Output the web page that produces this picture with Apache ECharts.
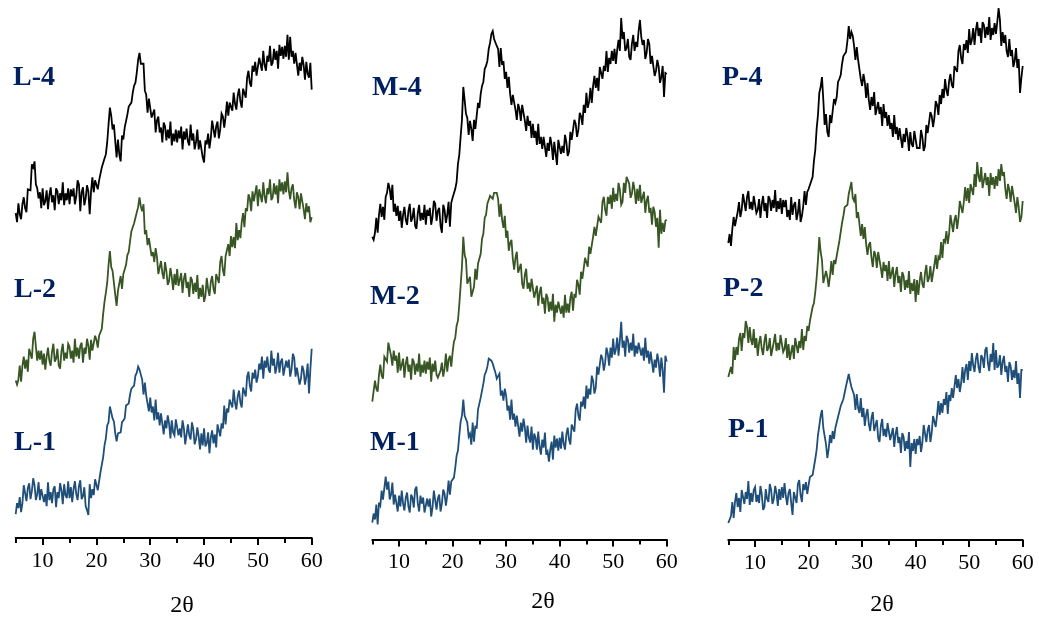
<!DOCTYPE html>
<html><head><meta charset="utf-8">
<script src="https://cdn.jsdelivr.net/npm/echarts@6/dist/echarts.min.js"></script>
<style>html,body{margin:0;padding:0;background:#fff}#c{width:1039px;height:630px}</style>
</head><body><div id="c"></div>
<script>
// 2θ sampling positions (degrees), 0.25° steps
const angles = [
5,5.25,5.5,5.75,6,6.25,6.5,6.75,7,7.25,7.5,7.75,8,8.25,8.5,8.75,9,9.25,9.5,9.75,
10,10.25,10.5,10.75,11,11.25,11.5,11.75,12,12.25,12.5,12.75,13,13.25,13.5,13.75,14,14.25,14.5,14.75,
15,15.25,15.5,15.75,16,16.25,16.5,16.75,17,17.25,17.5,17.75,18,18.25,18.5,18.75,19,19.25,19.5,19.75,
20,20.25,20.5,20.75,21,21.25,21.5,21.75,22,22.25,22.5,22.75,23,23.25,23.5,23.75,24,24.25,24.5,24.75,
25,25.25,25.5,25.75,26,26.25,26.5,26.75,27,27.25,27.5,27.75,28,28.25,28.5,28.75,29,29.25,29.5,29.75,
30,30.25,30.5,30.75,31,31.25,31.5,31.75,32,32.25,32.5,32.75,33,33.25,33.5,33.75,34,34.25,34.5,34.75,
35,35.25,35.5,35.75,36,36.25,36.5,36.75,37,37.25,37.5,37.75,38,38.25,38.5,38.75,39,39.25,39.5,39.75,
40,40.25,40.5,40.75,41,41.25,41.5,41.75,42,42.25,42.5,42.75,43,43.25,43.5,43.75,44,44.25,44.5,44.75,
45,45.25,45.5,45.75,46,46.25,46.5,46.75,47,47.25,47.5,47.75,48,48.25,48.5,48.75,49,49.25,49.5,49.75,
50,50.25,50.5,50.75,51,51.25,51.5,51.75,52,52.25,52.5,52.75,53,53.25,53.5,53.75,54,54.25,54.5,54.75,
55,55.25,55.5,55.75,56,56.25,56.5,56.75,57,57.25,57.5,57.75,58,58.25,58.5,58.75,59,59.25,59.5,59.75,
60];
const xTicks = [10,20,30,40,50,60];
const xMinorTicks = [5,15,25,35,45,55];

// Intensities (a.u., stacked as displayed)
const L4 = [
326,317,336,325,320,335,342,331,327,350,352,349,375,372,378,355,351,341,347,331,
351,334,338,349,330,344,352,337,344,329,351,348,335,346,339,357,334,346,339,351,
335,350,343,351,335,343,359,355,328,347,352,334,341,354,348,325,348,362,347,359,
360,350,359,360,372,372,381,385,397,415,432,424,410,415,398,382,400,385,378,404,
400,412,414,425,433,434,437,447,454,457,467,480,487,476,476,476,449,445,427,441,
441,422,422,430,407,419,423,407,412,397,417,413,399,410,401,418,394,406,398,410,
397,409,401,413,390,408,400,411,398,394,415,399,406,390,397,410,390,399,401,382,
377,399,395,406,391,401,419,418,402,413,418,401,410,426,423,412,423,438,424,437,
439,429,447,436,430,444,451,438,432,451,450,442,462,469,457,453,474,468,478,464,
464,482,480,469,489,475,469,484,478,494,474,477,491,480,489,471,495,484,493,481,
494,483,505,480,503,483,489,476,487,488,464,477,469,483,475,460,478,466,462,477,
450];
const L2 = [
158,154,159,173,157,173,182,170,179,167,190,190,180,200,207,192,178,188,179,188,
174,185,169,182,191,178,173,187,195,177,180,190,173,170,187,195,178,186,180,195,
192,180,188,176,200,182,191,180,193,196,176,191,185,200,193,179,199,188,186,203,
199,191,203,205,210,225,237,246,256,274,288,272,268,269,244,233,248,248,263,250,
265,266,274,284,287,298,308,309,316,316,327,332,342,333,328,335,305,309,294,301,
300,283,287,277,291,282,265,264,278,266,260,277,268,254,258,271,262,249,265,254,
270,253,255,266,246,260,266,251,257,242,262,259,245,256,247,264,240,251,242,254,
237,243,261,250,243,257,263,250,245,265,264,256,277,283,269,263,283,281,295,283,
303,292,302,291,316,299,309,301,317,326,312,331,328,345,341,328,348,338,337,354,
333,350,348,337,357,343,336,351,345,360,339,342,356,345,354,336,360,348,357,345,
358,347,367,349,340,351,355,339,331,347,342,330,346,347,330,320,336,327,333,317,
322];
const L1 = [
24,35,30,41,26,35,53,53,37,50,55,39,47,60,53,38,44,56,38,49,
48,36,44,32,56,38,46,35,49,52,31,46,40,55,48,34,54,43,40,57,
40,51,36,49,57,44,38,52,58,39,42,51,32,28,23,54,40,49,43,59,
61,48,57,66,67,81,93,100,113,116,132,126,120,117,105,97,105,107,106,116,
117,120,133,133,135,144,150,150,153,163,166,172,169,168,159,144,156,143,145,127,
141,126,132,118,139,119,126,113,125,126,104,118,110,123,115,100,118,106,103,119,
118,103,110,101,118,110,94,96,114,103,99,116,109,94,99,111,102,89,105,93,
110,92,95,106,85,101,108,95,104,91,114,113,102,115,110,133,114,130,126,139,
141,131,149,136,129,142,148,136,131,151,150,142,162,167,153,147,166,160,169,156,
162,175,169,182,160,178,171,182,169,166,188,173,180,165,172,186,166,177,180,163,
164,178,171,179,162,169,185,181,162,171,173,154,160,173,168,154,162,175,145,169,
190];
const M4 = [
303,300,307,322,307,325,336,323,333,320,343,347,357,351,340,355,328,336,324,334,
319,329,312,325,333,320,315,329,336,318,322,332,314,311,327,335,319,327,320,335,
315,330,324,332,315,323,339,336,319,329,332,314,307,335,330,317,325,338,313,337,
342,341,351,358,376,385,403,420,453,440,426,422,405,419,411,399,420,411,411,437,
432,446,454,458,471,474,479,491,497,506,509,501,502,494,491,473,492,475,479,461,
468,452,463,446,435,445,447,430,420,436,431,419,435,436,419,409,424,414,419,402,
416,402,409,395,416,396,403,391,403,405,383,397,389,403,395,380,398,386,375,400,
400,386,394,387,405,398,384,388,408,400,400,420,416,403,410,427,424,415,435,427,
447,432,438,452,437,454,464,452,462,449,473,472,461,474,469,489,468,482,476,489,
479,491,476,490,500,489,522,501,508,489,492,501,483,480,496,505,489,498,493,509,
520,503,495,500,481,487,501,496,476,484,485,464,469,480,473,457,463,474,443,467,
466];
const M2 = [
138,137,159,151,148,165,175,164,161,183,184,178,197,196,184,174,189,179,184,167,
187,169,171,181,162,176,183,168,175,160,181,178,165,176,168,186,163,175,167,179,
166,178,170,182,158,176,168,179,165,162,160,169,177,163,171,186,168,180,184,173,
187,198,202,214,219,235,254,273,303,285,280,256,254,263,243,242,253,271,260,276,
277,286,301,306,322,325,336,335,344,346,341,347,349,347,341,323,336,320,312,324,
302,309,289,297,300,281,270,282,288,267,268,276,256,251,265,271,251,257,248,261,
261,242,244,254,234,247,253,236,242,226,246,242,228,238,229,246,218,235,227,238,
238,226,234,222,245,227,236,227,242,248,229,246,242,260,255,245,268,261,262,282,
281,273,293,286,285,303,313,304,302,323,324,317,338,343,330,324,343,336,345,331,
352,338,346,339,357,350,335,338,357,347,363,363,356,342,346,358,350,336,351,339,
355,337,339,348,327,339,344,327,332,315,333,328,313,322,292,330,306,317,308,319,
320];
const M1 = [
17,26,20,35,15,37,34,49,40,40,63,50,58,40,45,57,35,45,46,28,
44,33,49,36,29,42,47,33,27,45,42,32,50,53,36,28,44,36,42,27,
26,41,33,41,23,32,49,47,30,41,45,28,36,50,46,34,44,59,45,58,
58,62,72,84,89,104,118,124,140,124,122,117,103,106,95,117,98,114,111,130,
130,142,144,156,165,168,173,181,183,179,176,176,167,161,161,166,144,149,139,151,
144,129,134,120,140,120,126,113,124,126,103,117,108,121,112,97,114,102,97,113,
90,106,102,90,108,93,85,100,92,107,85,88,78,90,98,80,104,92,101,89,
102,91,108,96,90,105,112,100,95,115,115,108,130,136,124,119,138,133,143,131,
154,141,151,145,164,159,146,152,173,165,165,185,181,169,177,192,186,174,192,182,
201,185,190,202,184,199,218,192,199,183,204,200,187,197,189,206,183,194,186,197,
197,184,192,179,202,182,189,176,188,189,167,180,172,186,178,163,182,170,147,184,
178];
const P4 = [
297,306,294,311,323,314,312,328,338,323,330,346,348,329,343,349,331,338,330,344,
345,327,330,341,322,336,344,329,337,322,344,341,329,340,332,350,328,339,331,342,
326,340,333,340,323,330,320,343,325,335,338,320,327,341,318,324,334,349,335,348,
351,349,359,363,379,390,411,425,447,453,463,440,415,426,408,403,425,417,418,441,
437,443,458,461,465,476,484,485,488,499,514,501,508,504,494,480,493,480,482,461,
454,466,458,442,457,440,430,443,434,448,425,427,438,426,433,414,436,422,428,414,
425,411,417,403,425,406,413,400,412,414,392,406,398,412,404,389,408,396,393,409,
408,392,390,392,410,403,389,394,415,407,407,428,424,413,422,439,435,425,445,436,
451,442,461,450,444,459,466,455,452,474,475,468,489,495,482,476,496,490,500,487,
511,495,500,512,495,510,518,504,512,497,518,515,502,513,505,523,500,512,505,517,
506,518,532,520,494,508,497,505,489,483,501,484,490,473,479,492,472,481,447,462,
474];
const P2 = [
163,161,173,166,193,180,193,185,201,207,189,207,202,219,213,197,213,200,195,211,
192,202,184,197,204,191,185,199,206,189,192,202,184,182,198,206,189,197,190,205,
205,188,191,202,182,196,180,188,195,181,202,200,187,199,192,211,190,204,199,214,
209,219,221,233,237,248,262,280,303,288,280,257,255,269,263,253,264,279,265,280,
276,284,286,299,301,317,324,333,333,335,346,345,358,342,339,346,322,328,326,304,
316,301,313,296,285,295,298,282,273,289,285,272,288,289,272,262,278,269,275,259,
279,261,263,273,253,266,273,257,264,248,268,264,250,260,252,269,246,257,249,261,
238,260,245,259,268,256,252,267,275,258,262,274,258,257,275,285,271,283,280,298,
282,301,298,309,296,306,325,324,308,320,325,311,322,339,338,327,338,353,339,352,
337,356,355,345,366,353,378,364,358,373,352,354,367,355,363,344,367,355,363,351,
364,354,371,359,376,364,368,351,341,356,350,338,354,355,337,327,343,333,318,323,
339];
const P1 = [
17,16,24,38,22,38,47,33,42,28,50,48,36,48,41,59,35,47,38,50,
53,38,45,37,54,46,30,33,51,41,38,56,50,36,41,54,47,34,51,40,
53,42,57,44,35,47,51,37,25,48,46,37,56,60,45,38,56,50,58,46,
55,63,65,65,73,81,90,105,114,124,130,112,110,96,82,91,105,97,109,101,
112,114,123,123,134,133,141,143,154,160,166,159,153,153,145,130,146,132,127,142,
123,132,114,125,131,116,109,122,128,109,111,120,102,98,114,121,104,111,103,117,
118,100,102,112,93,106,113,97,103,87,107,103,89,99,91,108,73,97,89,101,
86,101,95,104,88,97,115,114,98,110,115,98,107,124,123,113,125,139,125,137,
127,141,135,148,126,145,139,152,142,141,165,152,161,148,157,173,157,170,176,160,
179,169,187,175,168,181,187,173,167,185,182,172,190,193,177,169,186,178,197,170,
190,172,175,185,165,178,184,168,174,158,178,174,160,170,162,179,156,167,142,170,
170];

const sampleNames = [['L-4','L-2','L-1'],['M-4','M-2','M-1'],['P-4','P-2','P-1']];
const sampleData = [[L4,L2,L1],[M4,M2,M1],[P4,P2,P1]];
const lineColors = ['#000000','#375623','#1F4E79'];
const xTitle = '2θ';

const layout = [
  {left:15.7, width:296, top:-2, names:[[13,80],[14,292],[14,445]], title:[182,606]},
  {left:372.3, width:294.4, top:-0.5, names:[[372,90],[370,299],[370,445]], title:[543,602]},
  {left:728.3, width:294.4, top:0, names:[[722,80],[723,291],[728,432]], title:[882,605]}
];
const serif = '"Liberation Serif","Times New Roman",serif';

const grid=[], xAxis=[], yAxis=[], series=[], graphic=[];
layout.forEach((p,i)=>{
  grid.push({left:p.left, width:p.width, top:p.top, height:540});
  xAxis.push({gridIndex:i, type:'value', min:5, max:60, position:'bottom',
    axisLine:{show:true, onZero:false, lineStyle:{color:'#000', width:2}},
    axisTick:{show:true, customValues:xTicks, length:7, lineStyle:{color:'#000', width:2}},
    axisLabel:{show:true, customValues:xTicks, color:'#000', fontFamily:serif, fontSize:22, margin:12},
    splitLine:{show:false}});
  xAxis.push({gridIndex:i, type:'value', min:5, max:60, position:'bottom',
    axisLine:{show:false, onZero:false},
    axisTick:{show:true, customValues:xMinorTicks, length:5, lineStyle:{color:'#000', width:2}},
    axisLabel:{show:false}, splitLine:{show:false}});
  yAxis.push({gridIndex:i, type:'value', min:0, max:540, show:false});
  sampleData[i].forEach((arr,j)=>{
    series.push({type:'line', xAxisIndex:2*i, yAxisIndex:i, showSymbol:false, symbol:'none',
      silent:true, color:lineColors[j], lineStyle:{color:lineColors[j], width:1.8, join:'miter', miterLimit:4},
      data: angles.map((a,k)=>[a, arr[k]])});
    graphic.push({type:'text', left:p.names[j][0], top:p.names[j][1]-16,
      style:{text:sampleNames[i][j], font:'bold 28px '+serif, fill:'#002060'}});
  });
  graphic.push({type:'text', x:p.title[0], y:p.title[1],
    style:{text:xTitle, font:'24px '+serif, fill:'#000', align:'center', verticalAlign:'middle'}});
});

const chart = echarts.init(document.getElementById('c'), null, {renderer:'canvas'});
chart.setOption({animation:false, backgroundColor:'#fff', grid, xAxis, yAxis, series, graphic});
</script></body></html>
